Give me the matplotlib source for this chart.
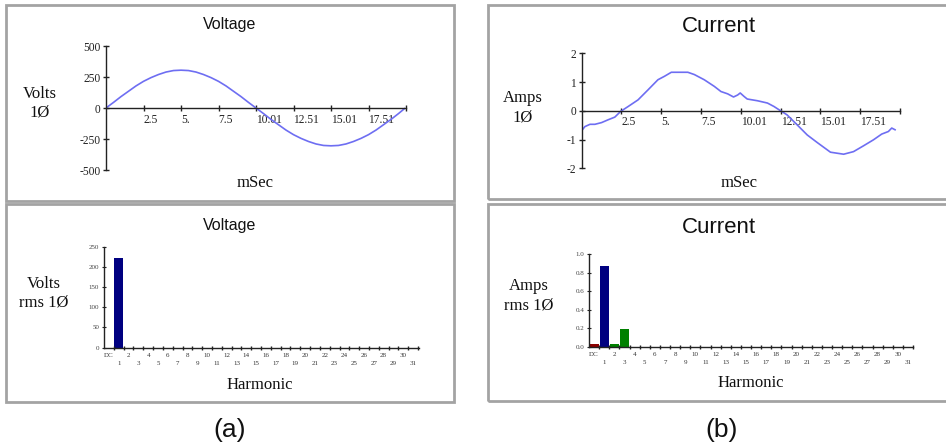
import matplotlib
matplotlib.use("Agg")
import matplotlib.pyplot as plt
from matplotlib.patches import Rectangle

# ---------------- data ----------------
volt_t = [0, 0.5, 1, 1.5, 2, 2.5, 3, 3.5, 4, 4.5, 5, 5.5, 6, 6.5, 7, 7.5, 8, 8.5, 9, 9.5,
          10, 10.5, 11, 11.5, 12, 12.5, 13, 13.5, 14, 14.5, 15, 15.5, 16, 16.5, 17, 17.5,
          18, 18.5, 19, 19.5, 19.9]
voltage = [0, 45, 92, 135, 178, 215, 245, 270, 290, 302, 305, 302, 290, 270, 245, 215, 178,
           135, 92, 45, 0, -45, -92, -135, -178, -215, -245, -270, -290, -302, -305, -302,
           -290, -270, -245, -215, -178, -135, -92, -45, -5]

cur_t = [0, 0.2, 0.52, 0.83, 1.25, 1.67, 2.08, 2.45, 2.92, 3.54, 4.17, 4.79, 5.2, 5.63,
         6.67, 7.08, 7.7, 8.33, 8.75, 9.17, 9.54, 9.8, 9.96, 10.2, 10.4, 11.04, 11.67,
         12.08, 12.5, 12.9, 13.54, 14.17, 14.79, 15.63, 16.46, 17.08, 17.7, 18.33, 18.85,
         19.27, 19.48, 19.69]
current = [-0.69, -0.55, -0.47, -0.47, -0.41, -0.31, -0.22, -0.02, 0.15, 0.38, 0.73, 1.08,
           1.20, 1.34, 1.34, 1.26, 1.08, 0.85, 0.67, 0.59, 0.48, 0.55, 0.62, 0.50, 0.41,
           0.35, 0.27, 0.15, 0.0, -0.14, -0.49, -0.84, -1.10, -1.44, -1.51, -1.42, -1.22,
           -1.01, -0.81, -0.72, -0.60, -0.66]

time_ticks = [2.5, 5, 7.5, 10, 12.5, 15, 17.5, 20]
time_labels = ["2.5", "5.", "7.5", "10.01", "12.51", "15.01", "17.51", ""]
volt_ticks = [500, 250, 0, -250, -500]
amp_ticks = [2, 1, 0, -1, -2]

harmonics = ["DC"] + [str(i) for i in range(1, 32)]
volt_rms = [0, 222] + [0] * 30
amp_rms = [0.03, 0.87, 0.03, 0.19] + [0] * 28
volt_rms_ticks = [0, 50, 100, 150, 200, 250]
amp_rms_ticks = [0.0, 0.2, 0.4, 0.6, 0.8, 1.0]
amp_rms_ticklabels = ["0.0", "0.2", "0.4", "0.6", "0.8", "1.0"]

# ---------------- styling ----------------
W, H = 946, 444
SERIF = ["Liberation Serif", "DejaVu Serif"]
SANS = ["Liberation Sans", "DejaVu Sans"]
LINE_C = "#6e6ef2"
AX_C = "#222222"
FRAME_C = "#a3a3a3"

fig = plt.figure(figsize=(W / 100, H / 100), dpi=100)
fig.patch.set_facecolor("white")


def fx(x):
    return x / W


def fy(y):
    return 1 - y / H


def add_ax(x0, x1, ytop, ybot):
    ax = fig.add_axes([x0 / W, 1 - ybot / H, (x1 - x0) / W, (ybot - ytop) / H])
    ax.patch.set_visible(False)
    return ax


def frame(x0, x1, y0, y1):
    fig.patches.append(Rectangle((fx(x0), fy(y1)), (x1 - x0) / W, (y1 - y0) / H,
                                 transform=fig.transFigure, fill=False,
                                 edgecolor=FRAME_C, linewidth=2.0, zorder=0))


frame(6, 454, 5, 201)
frame(6, 454, 204, 402)
frame(488, 962, 5, 199)
frame(488, 962, 204, 401)


def style_line_ax(ax, yticks):
    for s in ["top", "right"]:
        ax.spines[s].set_visible(False)
    ax.spines["bottom"].set_position(("data", 0))
    for s in ["left", "bottom"]:
        ax.spines[s].set_color(AX_C)
        ax.spines[s].set_linewidth(1.0)
    ax.set_xlim(0, 20)
    ax.set_xticks(time_ticks)
    ax.set_xticklabels(time_labels, fontfamily=SERIF, fontsize=8.3, ha="left")
    ax.set_yticks(yticks)
    ax.set_yticklabels([str(v) for v in yticks], fontfamily=SERIF, fontsize=8.3)
    ax.tick_params(axis="both", direction="inout", length=4, width=1.0, color=AX_C,
                   labelcolor="#222222")
    ax.tick_params(axis="x", pad=2)
    ax.tick_params(axis="y", pad=2)


# ---- top-left: voltage waveform
ax1 = add_ax(106, 406, 46, 170)
ax1.plot(volt_t, voltage, color=LINE_C, lw=1.2)
ax1.set_ylim(-500, 500)
style_line_ax(ax1, volt_ticks)

# ---- top-right: current waveform
ax2 = add_ax(581.7, 900, 53.3, 168.3)
ax2.plot(cur_t, current, color=LINE_C, lw=1.2)
ax2.set_ylim(-2, 2)
style_line_ax(ax2, amp_ticks)


def style_bar_ax(ax, yticks, ylabels, xmax):
    for s in ["top", "right"]:
        ax.spines[s].set_visible(False)
    for s in ["left", "bottom"]:
        ax.spines[s].set_color(AX_C)
        ax.spines[s].set_linewidth(1.0)
    ax.set_xlim(-0.5, xmax)
    pos = list(range(len(harmonics)))
    labels = [h if i % 2 == 0 else "\n" + h for i, h in enumerate(harmonics)]
    ax.set_xticks(pos)
    ax.set_xticklabels(labels, fontfamily=SERIF, fontsize=5.0, linespacing=1.75,
                       color="#333333")
    ax.set_xticks([p + 0.5 for p in pos], minor=True)
    ax.tick_params(axis="x", which="major", length=0, pad=4)
    ax.tick_params(axis="x", which="minor", direction="inout", length=3.5, width=1.0,
                   color=AX_C)
    ax.set_yticks(yticks)
    ax.set_yticklabels(ylabels, fontfamily=SERIF, fontsize=5.0, color="#444444")
    ax.tick_params(axis="y", direction="inout", length=3, width=0.8, color=AX_C, pad=2)


# ---- bottom-left: voltage spectrum
ax3 = add_ax(104, 419, 247, 347.5)
ax3.bar(range(len(harmonics)), volt_rms, width=0.95, color="#000080", zorder=1)
ax3.set_ylim(0, 250)
style_bar_ax(ax3, volt_rms_ticks, [str(v) for v in volt_rms_ticks], 31.6)

# ---- bottom-right: current spectrum
amp_colors = ["#8b0000", "#000080"] + ["#008000"] * 30
ax4 = add_ax(589, 913, 254, 346.7)
ax4.bar(range(len(harmonics)), amp_rms, width=0.92, color=amp_colors, zorder=1)
ax4.set_ylim(0, 1.0)
style_bar_ax(ax4, amp_rms_ticks, amp_rms_ticklabels, 31.4)

# ---------------- texts ----------------
def ftext(x, y, s, size, family, **kw):
    fig.text(fx(x), fy(y), s, fontsize=size, fontfamily=family, ha="center",
             va="center", color="#111111", **kw)


ftext(230, 24, "Voltage", 11.5, SANS)
ftext(40, 103, "Volts\n1Ø", 12, SERIF, linespacing=1.25)
ftext(255, 183, "mSec", 12, SERIF)

ftext(719, 27, "Current", 16, SANS)
ftext(523, 108, "Amps\n1Ø", 12, SERIF, linespacing=1.25)
ftext(739, 183, "mSec", 12, SERIF)

ftext(230, 225, "Voltage", 11.5, SANS)
ftext(44, 293, "Volts\nrms 1Ø", 12, SERIF, linespacing=1.25)
ftext(260, 385, "Harmonic", 12, SERIF)

ftext(719, 227, "Current", 16, SANS)
ftext(529, 296, "Amps\nrms 1Ø", 12, SERIF, linespacing=1.25)
ftext(751, 383, "Harmonic", 12, SERIF)

ftext(230, 430, "(a)", 19, SANS)
ftext(722, 430, "(b)", 19, SANS)

fig.savefig("out.png", dpi=100, facecolor="white")
